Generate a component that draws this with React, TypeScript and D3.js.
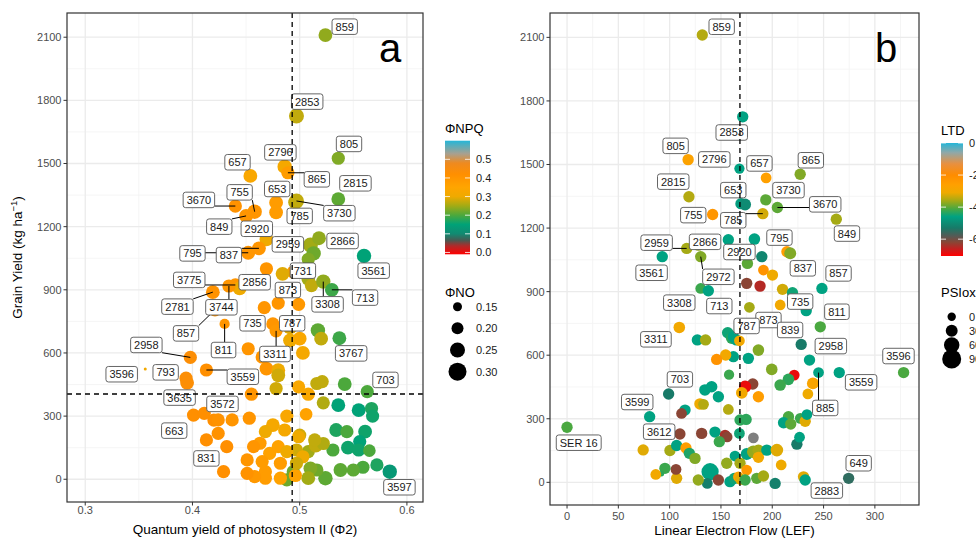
import * as d3 from 'd3';

type Row = [number, number, number | null, number, string?];
type Lab = [string, number, number];

// panel a: [Φ2, grain yield, ΦNPQ, ΦNO, genotype]
const phi2Rows: Row[] = [
  [0.524, 2110, 0.24, 0.23, '859'],
  [0.497, 1726, 0.27, 0.25, '2853'],
  [0.536, 1525, 0.23, 0.22, '805'],
  [0.486, 1485, 0.32, 0.24, '2796'],
  [0.489, 1456, 0.38, 0.22, '865'],
  [0.454, 1441, 0.33, 0.23, '657'],
  [0.536, 1331, 0.21, 0.23, '2815'],
  [0.478, 1314, 0.38, 0.23, '653'],
  [0.478, 1268, 0.38, 0.23],
  [0.496, 1316, 0.27, 0.24, '785'],
  [0.497, 1322, 0.27, 0.25, '3730'],
  [0.44, 1298, 0.41, 0.22, '3670'],
  [0.458, 1271, 0.4, 0.24, '755'],
  [0.45, 1251, 0.4, 0.23, '849'],
  [0.469, 1140, 0.3, 0.23, '2920'],
  [0.51, 1113, 0.25, 0.25, '2959'],
  [0.518, 1145, 0.24, 0.23, '2866'],
  [0.513, 1073, 0.22, 0.24],
  [0.508, 1045, 0.23, 0.22],
  [0.452, 1076, 0.4, 0.23, '795'],
  [0.462, 1097, 0.4, 0.23, '837'],
  [0.56, 1061, 0.15, 0.24, '3561'],
  [0.469, 1000, 0.4, 0.22],
  [0.494, 984, 0.38, 0.22],
  [0.484, 976, 0.29, 0.23, '731'],
  [0.508, 952, 0.25, 0.23],
  [0.511, 920, 0.27, 0.22],
  [0.522, 939, 0.24, 0.24, '3308'],
  [0.53, 900, 0.19, 0.23, '713'],
  [0.44, 923, 0.4, 0.22, '3775'],
  [0.444, 907, 0.3, 0.23, '2856'],
  [0.434, 918, 0.4, 0.22, '3744'],
  [0.419, 889, 0.41, 0.23, '2781'],
  [0.421, 805, 0.4, 0.22, '857'],
  [0.48, 837, 0.4, 0.22],
  [0.499, 831, 0.39, 0.22, '873'],
  [0.467, 815, 0.4, 0.22],
  [0.43, 738, 0.4, 0.17, '811'],
  [0.475, 738, 0.4, 0.22, '735'],
  [0.478, 705, 0.39, 0.22, '3311'],
  [0.491, 723, 0.29, 0.24, '787'],
  [0.491, 660, 0.3, 0.23],
  [0.5, 668, 0.33, 0.23],
  [0.517, 707, 0.21, 0.24],
  [0.52, 668, 0.27, 0.23],
  [0.537, 670, 0.19, 0.23, '3767'],
  [0.452, 620, 0.4, 0.22],
  [0.465, 581, 0.4, 0.22],
  [0.474, 590, 0.37, 0.23],
  [0.503, 600, 0.32, 0.23],
  [0.398, 579, 0.43, 0.22, '2958'],
  [0.356, 524, 0.31, 0.05, '3596'],
  [0.413, 519, 0.42, 0.22, '3559'],
  [0.394, 480, 0.43, 0.22, '793'],
  [0.395, 458, 0.43, 0.23, '3635'],
  [0.469, 526, 0.4, 0.23],
  [0.48, 518, 0.3, 0.23],
  [0.48, 494, 0.28, 0.23],
  [0.478, 431, 0.28, 0.22],
  [0.499, 439, 0.33, 0.22],
  [0.508, 404, 0.33, 0.22],
  [0.516, 455, 0.27, 0.22],
  [0.521, 464, 0.27, 0.22],
  [0.542, 452, 0.2, 0.23],
  [0.563, 416, 0.2, 0.22, '703'],
  [0.455, 404, 0.4, 0.22],
  [0.401, 305, 0.42, 0.22, '663'],
  [0.411, 313, 0.42, 0.22, '3572'],
  [0.42, 281, 0.42, 0.22],
  [0.424, 282, 0.41, 0.22],
  [0.437, 282, 0.4, 0.22],
  [0.453, 290, 0.4, 0.22],
  [0.488, 300, 0.33, 0.22],
  [0.506, 309, 0.36, 0.21],
  [0.522, 363, 0.26, 0.22],
  [0.536, 352, 0.15, 0.23],
  [0.555, 328, 0.15, 0.23],
  [0.567, 336, 0.17, 0.22],
  [0.568, 300, 0.16, 0.22],
  [0.534, 234, 0.17, 0.23],
  [0.561, 226, 0.16, 0.23],
  [0.544, 226, 0.2, 0.22],
  [0.545, 150, 0.16, 0.23],
  [0.556, 179, 0.15, 0.22],
  [0.555, 139, 0.16, 0.22],
  [0.565, 136, 0.2, 0.21],
  [0.572, 68, 0.17, 0.22],
  [0.559, 57, 0.2, 0.22],
  [0.55, 44, 0.21, 0.22],
  [0.538, 44, 0.21, 0.23],
  [0.531, 139, 0.2, 0.22],
  [0.524, 5, 0.21, 0.24],
  [0.516, 44, 0.22, 0.22],
  [0.51, 52, 0.23, 0.23],
  [0.508, 131, 0.25, 0.22],
  [0.515, 160, 0.27, 0.23],
  [0.522, 170, 0.26, 0.22],
  [0.5, 210, 0.28, 0.22],
  [0.497, 139, 0.28, 0.22],
  [0.503, 107, 0.3, 0.22],
  [0.494, 36, 0.22, 0.22],
  [0.488, -3, 0.22, 0.22],
  [0.508, 5, 0.25, 0.23],
  [0.496, 18, 0.36, 0.22],
  [0.475, 257, 0.32, 0.23],
  [0.468, 226, 0.3, 0.22],
  [0.463, 171, 0.38, 0.22],
  [0.486, 234, 0.32, 0.22],
  [0.472, 123, 0.36, 0.22],
  [0.48, 155, 0.36, 0.22],
  [0.457, 155, 0.4, 0.22],
  [0.488, 131, 0.3, 0.22],
  [0.465, 84, 0.38, 0.22],
  [0.482, 76, 0.38, 0.22],
  [0.468, 36, 0.38, 0.22],
  [0.468, 5, 0.38, 0.22],
  [0.482, 5, 0.36, 0.22],
  [0.458, 13, 0.39, 0.22],
  [0.451, 28, 0.41, 0.22],
  [0.429, 36, 0.42, 0.22],
  [0.413, 187, 0.42, 0.22, '831'],
  [0.424, 218, 0.41, 0.22],
  [0.432, 155, 0.42, 0.22],
  [0.497, 76, 0.28, 0.22],
  [0.451, 92, 0.4, 0.22],
  [0.499, 202, 0.3, 0.22],
  [0.514, 187, 0.27, 0.22],
  [0.584, 36, 0.13, 0.24, '3597'],
];

// label anchor per genotype, in data units
const phi2Labels: Lab[] = [
  ['859', 0.542, 2150], ['2853', 0.507, 1794], ['805', 0.546, 1593], ['2796', 0.482, 1553],
  ['865', 0.516, 1425], ['657', 0.442, 1506], ['2815', 0.552, 1406], ['653', 0.479, 1379],
  ['785', 0.5, 1251], ['3730', 0.537, 1264], ['3670', 0.406, 1327], ['755', 0.444, 1363],
  ['849', 0.425, 1200], ['2920', 0.46, 1190], ['2959', 0.489, 1116], ['2866', 0.54, 1132],
  ['795', 0.4, 1073], ['837', 0.434, 1065], ['3561', 0.569, 991], ['731', 0.503, 991],
  ['3775', 0.397, 947], ['2856', 0.458, 936], ['873', 0.489, 899], ['713', 0.561, 863],
  ['3308', 0.526, 831], ['2781', 0.386, 820], ['3744', 0.427, 817], ['857', 0.394, 693],
  ['811', 0.429, 614], ['735', 0.456, 741], ['787', 0.493, 741], ['3311', 0.477, 595],
  ['3767', 0.548, 598], ['2958', 0.357, 638], ['3596', 0.334, 499], ['793', 0.375, 508],
  ['3559', 0.447, 487], ['703', 0.58, 472], ['3635', 0.388, 388], ['3572', 0.428, 358],
  ['663', 0.383, 231], ['831', 0.413, 99], ['3597', 0.593, -38],
];

// panel b: [LEF, grain yield, LTD (null = NA), PSIox, genotype]
const lefRows: Row[] = [
  [131.8, 2111, -3.5, 25, '859'],
  [171.2, 1725, -4.6, 25, '2853'],
  [118, 1523, -2.7, 25, '805'],
  [168, 1481, -4.6, 16, '2796'],
  [194, 1437, -2.6, 20, '657'],
  [227.2, 1454, -3.8, 25, '865'],
  [118.8, 1348, -3.5, 25, '2815'],
  [169.5, 1315, -4.7, 25],
  [173.5, 1311, -5.0, 30, '653'],
  [193.7, 1333, -4.0, 25, '3730'],
  [205, 1297, -4.0, 25, '3670'],
  [141.9, 1264, -2.3, 25, '755'],
  [190.8, 1268, -3.3, 25, '785'],
  [262.4, 1242, -3.6, 25, '849'],
  [157.2, 1145, -4.6, 25, '2920'],
  [182.6, 1148, -4.6, 27],
  [116.6, 1104, -3.6, 25, '2959'],
  [128, 1118, -3.7, 20, '2866'],
  [130.3, 1065, -3.8, 25, '2972'],
  [92.8, 1065, -4.6, 25, '3561'],
  [189.8, 1065, -5.1, 25],
  [175.8, 1033, -4.0, 25],
  [214.3, 1088, -2.5, 25, '795'],
  [217.5, 1081, -3.8, 30, '837'],
  [191.4, 1002, -2.2, 20],
  [200.2, 978, -3.1, 25],
  [175.1, 939, -6.2, 25],
  [188.1, 926, -6.5, 25],
  [210, 911, -3.3, 25],
  [219.7, 895, -4.5, 25],
  [130.3, 915, -4.2, 20, '3308'],
  [137.7, 904, -4.6, 25, '713'],
  [248.4, 915, -4.6, 25, '857'],
  [177.7, 826, -3.6, 20],
  [207.7, 837, -3.0, 20, '873'],
  [233.1, 810, -4.6, 25, '735'],
  [246.8, 734, -4.1, 25, '811'],
  [109.4, 731, -3.0, 27, '3311'],
  [127, 672, -4.6, 25],
  [135, 672, -3.6, 25],
  [156.6, 706, -4.5, 27],
  [160.5, 680, -4.3, 27],
  [162, 687, -4.6, 25, '787'],
  [165, 672, -4.6, 25],
  [168, 668, -3.0, 20],
  [228.2, 651, -5.3, 25, '839'],
  [186.5, 624, -3.8, 27],
  [176.7, 585, -4.6, 25],
  [162.1, 593, -4.6, 25],
  [154.6, 601, -3.0, 25],
  [145.8, 580, -2.2, 25],
  [236.3, 577, -4.6, 25, '2958'],
  [199.5, 533, -3.8, 27],
  [245.1, 518, -4.6, 20, '885'],
  [265.3, 518, -4.6, 25, '3559'],
  [328, 518, -4.1, 25, '3596'],
  [221.4, 506, -6.9, 20],
  [215.8, 486, -4.3, 27],
  [207.7, 459, -4.2, 27],
  [181, 464, -6.2, 25],
  [173.5, 451, -6.9, 33],
  [170.3, 422, -3.0, 27],
  [239.6, 467, -2.8, 30],
  [234.7, 417, -3.1, 20],
  [186.5, 404, -2.5, 25],
  [157.9, 508, -4.2, 16],
  [99, 417, -5.3, 25, '703'],
  [134.4, 436, -4.6, 27],
  [140.9, 451, -4.6, 27],
  [147.5, 404, -4.6, 25],
  [129.6, 370, -3.1, 27],
  [133, 368, -3.5, 20],
  [157.2, 344, -3.5, 20],
  [80.5, 310, -4.6, 25, '3599'],
  [115, 341, -4.6, 25],
  [111.6, 325, -6.2, 20],
  [168.6, 294, -4.3, 25],
  [174.5, 297, -4.3, 25],
  [215.8, 310, -4.1, 25],
  [211, 281, -4.6, 25],
  [218, 275, -4.0, 25],
  [227.3, 302, -4.2, 20],
  [232.1, 288, -3.2, 25],
  [233.8, 320, -4.6, 20],
  [110, 228, -6.2, 25, '3612'],
  [131.2, 231, -6.2, 25],
  [144.2, 237, -4.6, 25],
  [154, 223, -6.4, 20],
  [156, 214, -6.2, 20],
  [148.4, 192, -4.2, 25],
  [168, 231, -4.5, 20],
  [181.6, 210, null, 20],
  [224, 180, -5.3, 25],
  [226.6, 213, -4.6, 20],
  [0, 260, -4.1, 25, 'SER 16'],
  [74.2, 153, -3.2, 25],
  [100.3, 150, -3.6, 25],
  [106.8, 174, -4.6, 25],
  [115.9, 162, -2.5, 25],
  [119.2, 137, -4.4, 25],
  [124.7, 113, -3.8, 25],
  [163.7, 124, -4.6, 20],
  [175.1, 134, -4.6, 30],
  [181.6, 144, -3.7, 38],
  [186.5, 150, -3.6, 30],
  [186.5, 118, -3.0, 25],
  [194.7, 152, -4.6, 25],
  [204.5, 152, -3.2, 36],
  [208.7, 82, -3.1, 20],
  [168.6, 90, -3.6, 25],
  [155.6, 90, -3.7, 25],
  [175.1, 58, -2.4, 20],
  [139.4, 50, -4.6, 75],
  [136.7, -5, -5.2, 20],
  [147.5, 11, -6.2, 25],
  [127.9, 11, -3.7, 25],
  [106.8, 19, -3.2, 25],
  [106.2, 61, -6.2, 20],
  [95.4, 66, -4.2, 25],
  [92, 40, -4.3, -25],
  [86.5, 37, -3.0, 20],
  [158.8, 3, -4.6, 25],
  [163, 18, -4.5, 25],
  [167, 26, -2.8, 20],
  [169.3, 14, -3.2, 25],
  [173.5, 11, -4.2, 25],
  [184.9, 19, -4.0, 25],
  [191.4, 30, -3.6, 25],
  [202.8, -5, -5.2, 25],
  [230.5, 26, -3.2, 25],
  [232.1, 11, -4.6, 25, '2883'],
  [274.4, 19, -5.5, 25, '649'],
];

const lefLabels: Lab[] = [
  ['859', 150.7, 2150], ['2853', 160.5, 1651], ['805', 105.8, 1588], ['2796', 143.5, 1524],
  ['657', 187.5, 1505], ['865', 237.6, 1520], ['2815', 103.5, 1419], ['653', 162, 1379],
  ['3730', 215.8, 1379], ['3670', 251.6, 1312], ['755', 123, 1261], ['785', 162, 1237],
  ['849', 272.8, 1174], ['2959', 87.3, 1131], ['2866', 134.5, 1135], ['2920', 168, 1087],
  ['795', 207, 1155], ['3561', 82.4, 989], ['2972', 147.5, 970], ['837', 229.8, 1010],
  ['857', 264.6, 986], ['3308', 109.4, 848], ['713', 148.4, 832], ['735', 227.2, 853],
  ['811', 263, 805], ['873', 196.3, 766], ['787', 175, 738], ['839', 217.4, 719],
  ['3311', 86.6, 675], ['2958', 257.1, 643], ['885', 251.6, 351], ['3559', 286.6, 472],
  ['3596', 323, 596], ['703', 110, 486], ['3599', 68.4, 379], ['3612', 89.8, 239],
  ['SER 16', 11.4, 187], ['649', 284.2, 90], ['2883', 253.2, -39],
];

const phi2Ticks = [0.3, 0.4, 0.5, 0.6];
const phi2Minor = [0.35, 0.45, 0.55];
const lefTicks = [0, 50, 100, 150, 200, 250, 300];
const lefMinor = [25, 75, 125, 175, 225, 275, 325];
const yieldTicks = [0, 300, 600, 900, 1200, 1500, 1800, 2100];
const yieldMinor = [150, 450, 750, 1050, 1350, 1650, 1950];
const npqTicks = [0, 0.1, 0.2, 0.3, 0.4, 0.5];
const noKeys = [0.15, 0.2, 0.25, 0.3];
const ltdTicks = [0, -2, -4, -6];
const psiKeys = [0, 30, 60, 90];
const phi2Cut = 0.493;
const yieldCut = 405;
const lefCut = 168.5;

const FONT = '"Liberation Sans", Arial, Helvetica, sans-serif';

const npqStops = [-0.01, 0.035, 0.065, 0.1, 0.15, 0.2, 0.25, 0.3, 0.35, 0.42, 0.48, 0.53, 0.6];
const npqHues = ['#ff0000', '#b02a2a', '#485a52', '#118a72', '#00a277', '#4ca83c', '#a2ab15', '#efaa00', '#ffa500', '#ff8f00', '#ee8a20', '#a8a090', '#25b6d8'];
const ltdStops = [-7.05, -6.6, -6.2, -5.8, -5.3, -4.6, -4.1, -3.6, -3.1, -2.6, -2.0, -1.3, -0.6, 0];
const ltdHues = ['#ff0000', '#c22020', '#8a4535', '#555a55', '#187a68', '#00a282', '#4aa840', '#a5aa15', '#efaa00', '#ffa000', '#ff8c00', '#e89040', '#90a8a8', '#25b6d8'];

const npqColor = d3.scaleLinear<string>().domain(npqStops).range(npqHues).interpolate(d3.interpolateRgb).clamp(true);
const ltdColor = d3.scaleLinear<string>().domain(ltdStops).range(ltdHues).interpolate(d3.interpolateRgb).clamp(true);
const noSize = d3.scaleLinear().domain([0.15, 0.3]).range([4.5, 9]);
const psiSize = d3.scaleLinear().domain([0, 90]).range([4.2, 9.5]);

let measureCtx: CanvasRenderingContext2D | null = null;
function textWidth(s: string, size: number) {
  if (!measureCtx) measureCtx = document.createElement('canvas').getContext('2d');
  if (!measureCtx) return s.length * size * 0.556;
  measureCtx.font = `${size}px ${FONT}`;
  return measureCtx.measureText(s).width;
}

type Box = { l: number; t: number; r: number; b: number };

function Panel(props: {
  rows: Row[]; labels: Lab[]; x: d3.ScaleLinear<number, number>; y: d3.ScaleLinear<number, number>;
  fill: (v: number | null) => string; size: (v: number) => number;
  xTicks: number[]; xMinor: number[]; fmt: (v: number) => string; box: Box;
  vline: number; hline?: number; tag: string; xTitle: string; tickPad: number; titleY: number;
}) {
  const { rows, labels, x, y, fill, size, xTicks, xMinor, fmt, box, vline, hline, tag, xTitle, tickPad, titleY } = props;
  const byId = new Map<string, Row>();
  rows.forEach((r) => { if (r[4]) byId.set(r[4], r); });

  const tags = labels.map(([id, lx, ly]) => {
    const r = byId.get(id)!;
    const w = textWidth(id, 11) + 7;
    const h = 15.5;
    const cx = x(lx), cy = y(ly);
    const px = x(r[0]), py = y(r[1]);
    const nx = Math.max(cx - w / 2, Math.min(px, cx + w / 2));
    const ny = Math.max(cy - h / 2, Math.min(py, cy + h / 2));
    const far = Math.hypot(nx - px, ny - py) > 11;
    return { id, w, h, cx, cy, px, py, nx, ny, far };
  });

  return (
    <g>
      <rect x={box.l} y={box.t} width={box.r - box.l} height={box.b - box.t} fill="#fff" />
      {xMinor.map((v) => (
        <line key={'xm' + v} x1={x(v)} x2={x(v)} y1={box.t} y2={box.b} stroke="#f2f2f2" strokeWidth={0.8} />
      ))}
      {yieldMinor.map((v) => (
        <line key={'ym' + v} x1={box.l} x2={box.r} y1={y(v)} y2={y(v)} stroke="#f2f2f2" strokeWidth={0.8} />
      ))}
      {xTicks.map((v) => (
        <line key={'xg' + v} x1={x(v)} x2={x(v)} y1={box.t} y2={box.b} stroke="#ebebeb" strokeWidth={1.3} />
      ))}
      {yieldTicks.map((v) => (
        <line key={'yg' + v} x1={box.l} x2={box.r} y1={y(v)} y2={y(v)} stroke="#ebebeb" strokeWidth={1.3} />
      ))}
      {rows.map((r, i) => (
        <circle key={i} cx={x(r[0])} cy={y(r[1])} r={Math.max(1.3, size(r[3]))} fill={fill(r[2])} />
      ))}
      {tags.filter((t) => t.far).map((t) => (
        <line key={'s' + t.id} x1={t.px} y1={t.py} x2={t.nx} y2={t.ny} stroke="#000" strokeWidth={1} />
      ))}
      {tags.map((t) => (
        <g key={'l' + t.id}>
          <rect x={t.cx - t.w / 2} y={t.cy - t.h / 2} width={t.w} height={t.h} rx={2.5} fill="#fff" stroke="#555" strokeWidth={0.9} />
          <text x={t.cx} y={t.cy} dy="0.36em" textAnchor="middle" fontSize={11} fill="#1a1a1a">{t.id}</text>
        </g>
      ))}
      <line x1={x(vline)} x2={x(vline)} y1={box.t} y2={box.b} stroke="#000" strokeWidth={1.3} strokeDasharray="5 4" />
      {hline !== undefined && (
        <line x1={box.l} x2={box.r} y1={y(hline)} y2={y(hline)} stroke="#000" strokeWidth={1.3} strokeDasharray="5 4" />
      )}
      <rect x={box.l} y={box.t} width={box.r - box.l} height={box.b - box.t} fill="none" stroke="#333" strokeWidth={1.2} />
      {xTicks.map((v) => (
        <g key={'xt' + v}>
          <line x1={x(v)} x2={x(v)} y1={box.b} y2={box.b + 3.5} stroke="#333" strokeWidth={1} />
          <text x={x(v)} y={box.b + tickPad} textAnchor="middle" fontSize={11} fill="#4d4d4d">{fmt(v)}</text>
        </g>
      ))}
      {yieldTicks.map((v) => (
        <g key={'yt' + v}>
          <line x1={box.l - 3.5} x2={box.l} y1={y(v)} y2={y(v)} stroke="#333" strokeWidth={1} />
          <text x={box.l - 5.5} y={y(v)} dy="0.36em" textAnchor="end" fontSize={11} fill="#4d4d4d">{v}</text>
        </g>
      ))}
      <text x={box.r - 33} y={62} textAnchor="middle" fontSize={40} fill="#000">{tag}</text>
      <text x={(box.l + box.r) / 2} y={titleY} textAnchor="middle" fontSize={13.5} fill="#000">{xTitle}</text>
    </g>
  );
}

function ColorLegend(props: { id: string; title: string; x: number; titleY: number; top: number; bottom: number; stops: number[]; hues: string[]; ticks: number[]; fmt: (v: number) => string; w: number }) {
  const { id, title, x, titleY, top, bottom, stops, hues, ticks, fmt, w } = props;
  const lo = stops[0], hi = stops[stops.length - 1];
  const ly = d3.scaleLinear().domain([lo, hi]).range([bottom, top]);
  return (
    <g>
      <defs>
        <linearGradient id={id} x1="0" y1="1" x2="0" y2="0">
          {stops.map((s, i) => (
            <stop key={i} offset={(s - lo) / (hi - lo)} stopColor={hues[i]} />
          ))}
        </linearGradient>
      </defs>
      <text x={x} y={titleY} fontSize={13} fill="#000">{title}</text>
      <rect x={x} y={top} width={w} height={bottom - top} fill={`url(#${id})`} />
      {ticks.map((t) => (
        <g key={t}>
          <line x1={x} x2={x + 5} y1={ly(t)} y2={ly(t)} stroke="#fff" strokeOpacity={0.8} strokeWidth={1} />
          <line x1={x + w - 5} x2={x + w} y1={ly(t)} y2={ly(t)} stroke="#fff" strokeOpacity={0.8} strokeWidth={1} />
          <text x={x + w + 6} y={ly(t)} dy="0.36em" fontSize={11} fill="#1a1a1a">{fmt(t)}</text>
        </g>
      ))}
    </g>
  );
}

function SizeLegend(props: { title: string; x: number; titleY: number; cx: number; ys: number[]; keys: number[]; size: (v: number) => number; fmt: (v: number) => string; labelX: number }) {
  const { title, x, titleY, cx, ys, keys, size, fmt, labelX } = props;
  return (
    <g>
      <text x={x} y={titleY} fontSize={13} fill="#000">{title}</text>
      {keys.map((k, i) => (
        <g key={k}>
          <circle cx={cx} cy={ys[i]} r={size(k)} fill="#000" />
          <text x={labelX} y={ys[i]} dy="0.36em" fontSize={11} fill="#1a1a1a">{fmt(k)}</text>
        </g>
      ))}
    </g>
  );
}

export default function App() {
  const boxA: Box = { l: 67, t: 13, r: 423, b: 502 };
  const boxB: Box = { l: 550, t: 13, r: 919, b: 505 };
  const xA = d3.scaleLinear().domain([0.283, 0.615]).range([boxA.l, boxA.r]);
  const yA = d3.scaleLinear().domain([-108, 2215]).range([boxA.b, boxA.t]);
  const xB = d3.scaleLinear().domain([-16.6, 343]).range([boxB.l, boxB.r]);
  const yB = d3.scaleLinear().domain([-107, 2215]).range([boxB.b, boxB.t]);

  return (
    <div style={{ position: 'absolute', left: 0, top: 0 }}>
      <svg width={976} height={539} style={{ display: 'block', fontFamily: FONT }}>
        <rect width={976} height={539} fill="#fff" />
        <Panel rows={phi2Rows} labels={phi2Labels} x={xA} y={yA}
          fill={(v) => (v === null ? '#7f7f7f' : npqColor(v))} size={(v) => noSize(v)}
          xTicks={phi2Ticks} xMinor={phi2Minor} fmt={(v) => v.toFixed(1)} box={boxA}
          vline={phi2Cut} hline={yieldCut} tag="a" xTitle="Quantum yield of photosystem II (Φ2)" tickPad={11.5} titleY={534} />
        <Panel rows={lefRows} labels={lefLabels} x={xB} y={yB}
          fill={(v) => (v === null ? '#7f7f7f' : ltdColor(v))} size={(v) => psiSize(v)}
          xTicks={lefTicks} xMinor={lefMinor} fmt={(v) => String(v)} box={boxB}
          vline={lefCut} tag="b" xTitle="Linear Electron Flow (LEF)" tickPad={14.5} titleY={535} />
        <text transform={`translate(22, ${(boxA.t + boxA.b) / 2}) rotate(-90)`} textAnchor="middle" fontSize={13.5} fill="#000">
          Grain Yield (kg ha<tspan dy={-5} fontSize={9.5}>−1</tspan><tspan dy={5}>)</tspan>
        </text>
        <ColorLegend id="npqGrad" title="ΦNPQ" x={445} titleY={133} top={140.7} bottom={254.3}
          stops={npqStops} hues={npqHues} ticks={npqTicks} fmt={(v) => v.toFixed(1)} w={25} />
        <SizeLegend title="ΦNO" x={445} titleY={297} cx={457.5} ys={[306.7, 328.3, 350, 371.7]}
          keys={noKeys} size={(v) => noSize(v)} fmt={(v) => v.toFixed(2)} labelX={476} />
        <ColorLegend id="ltdGrad" title="LTD" x={941} titleY={135} top={143} bottom={256}
          stops={ltdStops} hues={ltdHues} ticks={ltdTicks} fmt={(v) => String(v)} w={22} />
        <SizeLegend title="PSIox" x={941} titleY={297} cx={951.7} ys={[316.7, 330.7, 345, 359]}
          keys={psiKeys} size={(v) => psiSize(v)} fmt={(v) => String(v)} labelX={969} />
      </svg>
    </div>
  );
}
